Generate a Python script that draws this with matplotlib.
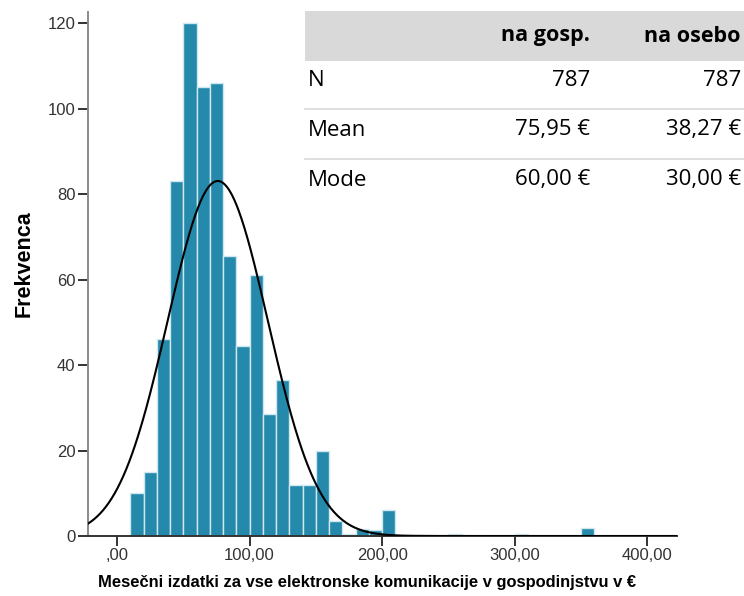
import numpy as np
import matplotlib
matplotlib.use("Agg")
import matplotlib.pyplot as plt
from matplotlib.patches import Rectangle

# ---- data ----
bin_left = [10, 20, 30, 40, 50, 60, 70, 80, 90, 100, 110, 120, 130, 140, 150,
            160, 170, 180, 190, 200, 210, 220, 230, 240, 250, 260, 270, 280,
            290, 300, 310, 320, 330, 340, 350]
freq = [10, 15, 46, 83, 120, 105, 106, 65.5, 44.5, 61, 28.5, 36.5, 12, 12, 20,
        3.6, 0.5, 1.6, 1.5, 6, 0, 0.3, 0.3, 0, 0.5, 0, 0, 0,
        0, 0.4, 0, 0, 0, 0, 1.8]
bin_width = 10
n_obs = 787
mean_val = 75.95
sd_val = 37.8

xticks = [0, 100, 200, 300, 400]
xtick_labels = [",00", "100,00", "200,00", "300,00", "400,00"]
yticks = [0, 20, 40, 60, 80, 100, 120]

table_cols = ["na gosp.", "na osebo"]
table_rows = ["N", "Mean", "Mode"]
col_gosp = ["787", "75,95 €", "60,00 €"]
col_osebo = ["787", "38,27 €", "30,00 €"]

W, H = 744, 596
fig = plt.figure(figsize=(W / 100, H / 100), dpi=100)
ax = fig.add_axes([88 / W, (H - 536) / H, (677 - 88) / W, (536 - 12) / H])

bar_color = "#2489ab"
ax.bar(bin_left, freq, width=bin_width, align="edge", color=bar_color,
       edgecolor="#cfe8f0", linewidth=1.0, zorder=2)

xs = np.linspace(-22, 423, 600)
ys = n_obs * bin_width / (sd_val * np.sqrt(2 * np.pi)) * np.exp(-0.5 * ((xs - mean_val) / sd_val) ** 2)
ax.plot(xs, ys, color="black", linewidth=1.5, zorder=3)

ax.set_xlim(-22, 422.6)
ax.set_ylim(0, 122.6)
for s in ["top", "right"]:
    ax.spines[s].set_visible(False)
for s in ["left", "bottom"]:
    ax.spines[s].set_color("#8a8a8a")
    ax.spines[s].set_linewidth(1.4)
ax.spines["bottom"].set_color("#333333")

ax.set_xticks(xticks)
ax.set_xticklabels(xtick_labels)
ax.set_yticks(yticks)
ax.tick_params(axis="both", length=7, width=1.4, color="#333333",
               labelcolor="#333333", labelsize=12, pad=2)
for lab in ax.get_xticklabels() + ax.get_yticklabels():
    lab.set_family("Liberation Sans")

fig.text(24 / W, 1 - 264 / H, "Frekvenca", rotation=90, ha="center", va="center",
         fontsize=15.5, fontweight="bold", family="Liberation Sans")
fig.text(367 / W, 1 - 582 / H,
         "Mesečni izdatki za vse elektronske komunikacije v gospodinjstvu v €",
         ha="center", va="center", fontsize=11.9, fontweight="bold",
         family="Liberation Sans")

# ---- table ----
fig.patches.append(Rectangle((305 / W, 1 - 61 / H), (W - 305) / W, 50 / H,
                             transform=fig.transFigure, facecolor="#d9d9d9",
                             edgecolor="none", zorder=5))
for yl in [109, 159]:
    fig.add_artist(plt.Line2D([305 / W, 1], [1 - yl / H, 1 - yl / H],
                              transform=fig.transFigure, color="#d9d9d9",
                              linewidth=1.2, zorder=5))
tfont = "Open Sans"
col_x = [590, 741]
for cx, name in zip(col_x, table_cols):
    fig.text(cx / W, 1 - 36 / H, name, ha="right", va="center", fontsize=15.5,
             fontweight="bold", family=tfont, zorder=6)
row_y = [80, 130, 180]
for ry, rname, v1, v2 in zip(row_y, table_rows, col_gosp, col_osebo):
    fig.text(308 / W, 1 - ry / H, rname, ha="left", va="center", fontsize=16,
             family=tfont, zorder=6)
    fig.text(col_x[0] / W, 1 - ry / H, v1, ha="right", va="center", fontsize=16,
             family=tfont, zorder=6)
    fig.text(col_x[1] / W, 1 - ry / H, v2, ha="right", va="center", fontsize=16,
             family=tfont, zorder=6)

fig.savefig("out.png", dpi=100)
